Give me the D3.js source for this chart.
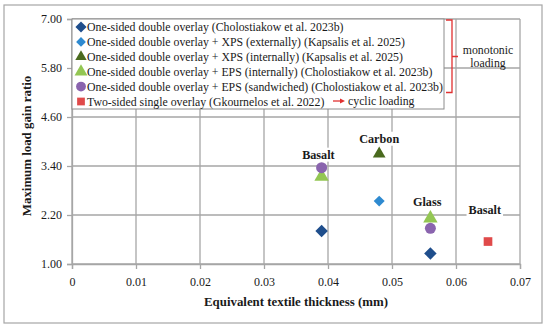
<!DOCTYPE html>
<html><head><meta charset="utf-8">
<script src="https://cdn.jsdelivr.net/npm/d3@7"></script>
<style>body{margin:0;background:#fff}svg{display:block}text{font-family:"Liberation Serif",serif}</style>
</head><body>
<svg id="c" width="550" height="329"></svg>
<script>
const xTicks = [0, 0.01, 0.02, 0.03, 0.04, 0.05, 0.06, 0.07];
const yTicks = [1.00, 2.20, 3.40, 4.60, 5.80, 7.00];
const seriesNames = [
  "One-sided double overlay (Cholostiakow et al. 2023b)",
  "One-sided double overlay + XPS (externally) (Kapsalis et al. 2025)",
  "One-sided double overlay + XPS (internally) (Kapsalis et al. 2025)",
  "One-sided double overlay + EPS (internally) (Cholostiakow et al. 2023b)",
  "One-sided double overlay + EPS (sandwiched) (Cholostiakow et al. 2023b)",
  "Two-sided single overlay (Gkournelos et al. 2022)"
];
const seriesColors = ["#1f4e8c", "#2e8ad0", "#4a6a1e", "#93c653", "#8a64ae", "#e04a4a"];
const seriesShapes = ["diamond", "diamond", "triangle", "triangle", "circle", "square"];
const seriesSizes = [78, 60, 70, 90, 95, 75];
const s0x = [0.039, 0.056], s0y = [1.81, 1.26];
const s1x = [0.048], s1y = [2.54];
const s2x = [0.048], s2y = [3.70];
const s3x = [0.039, 0.056], s3y = [3.14, 2.12];
const s4x = [0.039, 0.056], s4y = [3.36, 1.875];
const s5x = [0.065], s5y = [1.55];
const seriesX = [s0x, s1x, s2x, s3x, s4x, s5x];
const seriesY = [s0y, s1y, s2y, s3y, s4y, s5y];
const labelText = ["Carbon", "Basalt", "Glass", "Basalt"];
const labelX = [0.048, 0.0385, 0.0555, 0.0645];
const labelY = [3.97, 3.58, 2.42, 2.22];

const FONT = '"Liberation Serif", serif';
const svg = d3.select("#c");
const x = d3.scaleLinear().domain([0, 0.07]).range([72, 520]);
const y = d3.scaleLinear().domain([1, 7]).range([264, 19]);
const grid = "#a6a6a6";

// measure a font size so that a string spans a given width
function fitSize(str, width, weight) {
  const t = svg.append("text").style("font-size", "20px").style("font-weight", weight || "normal").text(str);
  const w = t.node().getComputedTextLength();
  t.remove();
  return 20 * width / w;
}
const legendFs = fitSize(seriesNames[0], 257);
const tickFs = Math.min(12.5, fitSize("0.01", 21));
const titleFs = fitSize("Equivalent textile thickness (mm)", 184, "bold");
const labelFs = fitSize("Carbon", 40, "bold");

svg.append("rect").attr("x", 4).attr("y", 5).attr("width", 538).attr("height", 318)
  .attr("fill", "none").attr("stroke", "#a6a6a6").attr("stroke-width", 1.2);

svg.append("g").selectAll("line").data(yTicks).join("line")
  .attr("x1", x(0)).attr("x2", x(0.07)).attr("y1", d => y(d)).attr("y2", d => y(d))
  .attr("stroke", grid).attr("stroke-width", 1.3);
svg.append("g").selectAll("line").data(xTicks).join("line")
  .attr("y1", y(1)).attr("y2", y(7)).attr("x1", d => x(d)).attr("x2", d => x(d))
  .attr("stroke", grid).attr("stroke-width", 1.3);

const fmtY = d3.format(".2f");
const ax = svg.append("g").attr("transform", `translate(0,${y(1)})`)
  .call(d3.axisBottom(x).tickValues(xTicks).tickFormat(d => d === 0 ? "0" : String(+d.toFixed(2))).tickSize(5).tickPadding(8));
const ay = svg.append("g").attr("transform", `translate(${x(0)},0)`)
  .call(d3.axisLeft(y).tickValues(yTicks).tickFormat(fmtY).tickSize(5).tickPadding(5));
[ax, ay].forEach(g => {
  g.attr("font-family", FONT);
  g.select(".domain").attr("stroke", grid).attr("stroke-width", 1.3);
  g.selectAll(".tick line").attr("stroke", grid).attr("stroke-width", 1.3);
  g.selectAll("text").attr("fill", "#1a1a1a").style("font-size", tickFs + "px").style("font-family", FONT);
});

svg.append("text").attr("x", 296).attr("y", 306).attr("text-anchor", "middle")
  .style("font-size", titleFs + "px").style("font-weight", "bold").attr("fill", "#1a1a1a")
  .text("Equivalent textile thickness (mm)");
svg.append("text").attr("transform", "translate(31,146) rotate(-90)").attr("text-anchor", "middle")
  .style("font-size", titleFs + "px").style("font-weight", "bold").attr("fill", "#1a1a1a")
  .text("Maximum load gain ratio");

labelText.forEach((t, i) => {
  const g = svg.append("g");
  const tx = g.append("text").attr("x", x(labelX[i])).attr("y", y(labelY[i]))
    .attr("text-anchor", "middle").style("font-size", labelFs + "px").style("font-weight", "bold")
    .attr("fill", "#1a1a1a").text(t);
  const bb = tx.node().getBBox();
  g.insert("rect", "text").attr("x", bb.x - 2).attr("y", bb.y).attr("width", bb.width + 4)
    .attr("height", bb.height).attr("fill", "#fff");
});

const symType = {triangle: d3.symbolTriangle, circle: d3.symbolCircle, square: d3.symbolSquare};
function sym(shape, size) {
  if (shape === "diamond") return d3.symbol(d3.symbolSquare, size)();
  return d3.symbol(symType[shape], size)();
}
seriesNames.forEach((n, i) => {
  svg.append("g").selectAll("path").data(seriesX[i].map((v, j) => [v, seriesY[i][j]])).join("path")
    .attr("d", sym(seriesShapes[i], seriesSizes[i]))
    .attr("transform", d => `translate(${x(d[0])},${y(d[1])})` + (seriesShapes[i] === "diamond" ? " rotate(45)" : ""))
    .attr("fill", seriesColors[i]);
});

const lg = svg.append("g");
lg.append("rect").attr("x", x(0)).attr("y", y(7)).attr("width", 372).attr("height", 90)
  .attr("fill", "#fff").attr("stroke", "#8c8c8c").attr("stroke-width", 1);
seriesNames.forEach((n, i) => {
  const cy = 27 + i * 14.9;
  lg.append("path").attr("d", sym(seriesShapes[i], seriesSizes[i] * 0.8))
    .attr("transform", `translate(81,${cy})` + (seriesShapes[i] === "diamond" ? " rotate(45)" : ""))
    .attr("fill", seriesColors[i]);
  lg.append("text").attr("x", 87).attr("y", cy + 4).style("font-size", legendFs + "px").attr("fill", "#1a1a1a").text(n);
});
lg.append("line").attr("x1", 333).attr("x2", 341).attr("y1", 101).attr("y2", 101).attr("stroke", "#e03030").attr("stroke-width", 1.3);
lg.append("path").attr("d", "M340,98.5 L345,101 L340,103.5 Z").attr("fill", "#e03030");
lg.append("text").attr("x", 348).attr("y", 105).style("font-size", legendFs + "px").attr("fill", "#1a1a1a").text("cyclic loading");

svg.append("path").attr("d", "M446,20 L452,20 L452,92.5 L446,92.5 M452,56.5 L458,56.5")
  .attr("fill", "none").attr("stroke", "#e03030").attr("stroke-width", 1.3);
svg.append("text").attr("x", 488).attr("y", 54).attr("text-anchor", "middle").style("font-size", legendFs + "px").attr("fill", "#1a1a1a").text("monotonic");
svg.append("text").attr("x", 488).attr("y", 67).attr("text-anchor", "middle").style("font-size", legendFs + "px").attr("fill", "#1a1a1a").text("loading");
</script>
</body></html>
